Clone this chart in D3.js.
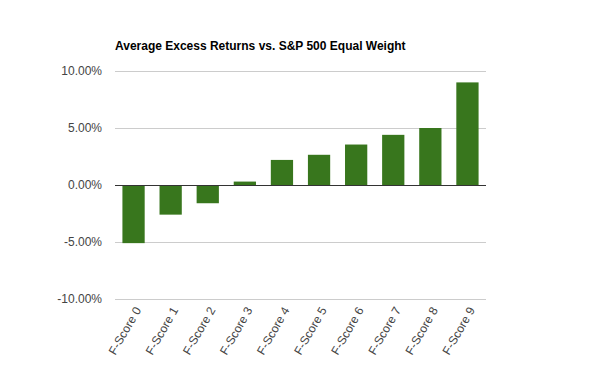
<!DOCTYPE html>
<html>
<head>
<meta charset="utf-8">
<script src="https://cdn.jsdelivr.net/npm/d3@7"></script>
<style>
  body { margin: 0; background: #fff; }
  text { font-family: Arial, "Liberation Sans", sans-serif; }
</style>
</head>
<body>
<svg id="chart" width="600" height="371"></svg>
<script>
const categories = ["F-Score 0", "F-Score 1", "F-Score 2", "F-Score 3", "F-Score 4",
                    "F-Score 5", "F-Score 6", "F-Score 7", "F-Score 8", "F-Score 9"];
const excessReturns = [-5.1, -2.6, -1.6, 0.3, 2.2, 2.65, 3.55, 4.4, 5.0, 9.0];
const yTicks = [-10, -5, 0, 5, 10];

const margin = { top: 71, right: 114, bottom: 72, left: 115 };
const width = 600 - margin.left - margin.right;
const height = 371 - margin.top - margin.bottom;

const svg = d3.select("#chart");

svg.append("text")
  .attr("x", 115)
  .attr("y", 50)
  .style("font-size", "12px")
  .style("font-weight", "bold")
  .attr("fill", "#000")
  .text("Average Excess Returns vs. S&P 500 Equal Weight");

const g = svg.append("g")
  .attr("transform", `translate(${margin.left},${margin.top})`);

const x = d3.scaleBand()
  .domain(categories)
  .range([0, width])
  .paddingInner(0.4)
  .paddingOuter(0.2);

const y = d3.scaleLinear()
  .domain([-10, 10])
  .range([height, 0]);

// plain hyphen for negatives, like the original
const pct = d => d3.format(".2f")(d).replace("\u2212", "-") + "%";

// gridlines
g.selectAll(".grid")
  .data(yTicks.filter(t => t !== 0))
  .enter().append("line")
  .attr("x1", 0)
  .attr("x2", width)
  .attr("y1", d => Math.round(y(d)) + 0.5)
  .attr("y2", d => Math.round(y(d)) + 0.5)
  .attr("stroke", "#cccccc");

// y labels
g.selectAll(".ylab")
  .data(yTicks)
  .enter().append("text")
  .attr("x", -13)
  .attr("y", d => y(d) + 4)
  .attr("text-anchor", "end")
  .style("font-size", "12px")
  .attr("fill", "#444")
  .text(pct);

// bars
g.selectAll(".bar")
  .data(excessReturns)
  .enter().append("rect")
  .attr("x", (d, i) => x(categories[i]))
  .attr("width", x.bandwidth())
  .attr("y", d => y(Math.max(0, d)))
  .attr("height", d => Math.abs(y(d) - y(0)))
  .attr("fill", "#38761d");

// zero line
g.append("line")
  .attr("x1", 0)
  .attr("x2", width)
  .attr("y1", Math.round(y(0)) + 0.5)
  .attr("y2", Math.round(y(0)) + 0.5)
  .attr("stroke", "#333333");

// x labels, slanted
g.selectAll(".xlab")
  .data(categories)
  .enter().append("text")
  .attr("transform", d => `translate(${x(d) + x.bandwidth() / 2 + 8},${height + 11}) rotate(-60)`)
  .attr("text-anchor", "end")
  .style("font-size", "12px")
  .attr("fill", "#444")
  .text(d => d);
</script>
</body>
</html>
